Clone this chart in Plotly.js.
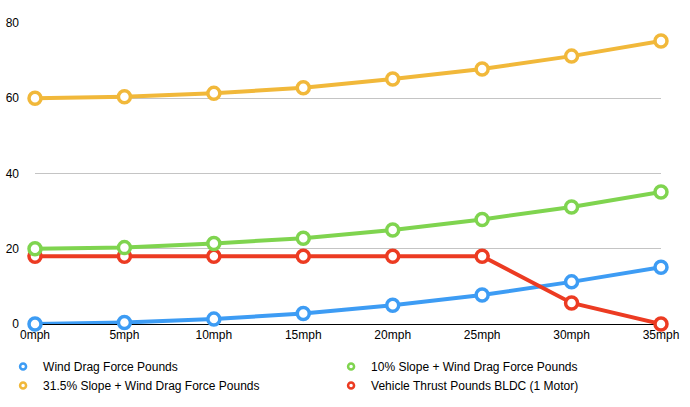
<!DOCTYPE html>
<html>
<head>
<meta charset="utf-8">
<script src="https://cdn.plot.ly/plotly-3.0.1.min.js"></script>
<style>html,body{margin:0;padding:0;background:#fff;}#chart{width:690px;height:407px;}</style>
</head>
<body>
<div id="chart"></div>
<script>
var speeds = [0, 5, 10, 15, 20, 25, 30, 35];
var tickLabels = ['0mph','5mph','10mph','15mph','20mph','25mph','30mph','35mph'];
var windDrag = [0, 0.4, 1.3, 2.8, 5.0, 7.7, 11.2, 15.1];
var slope10 = [20, 20.3, 21.4, 22.8, 25.0, 27.8, 31.1, 35.1];
var slope315 = [60, 60.4, 61.3, 62.8, 65.1, 67.8, 71.2, 75.2];
var thrust = [18, 18, 18, 18, 18, 18, 5.6, 0];

var names = ['Wind Drag Force Pounds', '10% Slope + Wind Drag Force Pounds',
             '31.5% Slope + Wind Drag Force Pounds', 'Vehicle Thrust Pounds BLDC (1 Motor)'];
var colors = ['#3d9cf4', '#7fd44f', '#f1b83a', '#ec3b22'];
var series = [windDrag, slope10, slope315, thrust];

var traces = [];
var drawOrder = [0, 3, 1, 2];
drawOrder.forEach(function(i){
  traces.push({
    x: speeds, y: series[i], type: 'scatter', mode: 'lines+markers',
    name: names[i], showlegend: false, cliponaxis: false,
    line: {color: colors[i], width: 4},
    marker: {symbol: 'circle', size: 12, color: '#ffffff', line: {color: colors[i], width: 3.5}},
    hoverinfo: 'skip'
  });
});
for (var i = 0; i < 4; i++) {
  traces.push({
    x: [null], y: [null], type: 'scatter', mode: 'markers', name: names[i],
    showlegend: true,
    marker: {symbol: 'circle', size: 6, color: '#ffffff', line: {color: colors[i], width: 2.5}}
  });
}

var layout = {
  width: 690, height: 407,
  margin: {l: 35, r: 29, t: 23, b: 83, autoexpand: false},
  paper_bgcolor: '#fff', plot_bgcolor: '#fff',
  font: {family: 'Liberation Sans, Arial, sans-serif', size: 12, color: '#000'},
  xaxis: {
    range: [0, 35], tickvals: speeds, ticktext: tickLabels,
    showgrid: false, zeroline: false, showline: false, ticks: '',
    ticklabelstandoff: 2, fixedrange: true
  },
  yaxis: {
    range: [0, 80], tickvals: [0, 20, 40, 60, 80],
    showgrid: true, gridcolor: '#c4c4c4', gridwidth: 1,
    zeroline: true, zerolinecolor: '#000', zerolinewidth: 1,
    showline: false, ticks: '', ticklabelstandoff: 15, fixedrange: true
  },
  legend: {
    orientation: 'h', x: -0.051, xanchor: 'left', y: -0.093, yanchor: 'top',
    entrywidth: 283, entrywidthmode: 'pixels', tracegroupgap: 0,
    font: {size: 12}, bgcolor: 'rgba(0,0,0,0)', traceorder: 'normal'
  },
  showlegend: true
};

Plotly.newPlot('chart', traces, layout, {displayModeBar: false, staticPlot: true});
</script>
</body>
</html>
